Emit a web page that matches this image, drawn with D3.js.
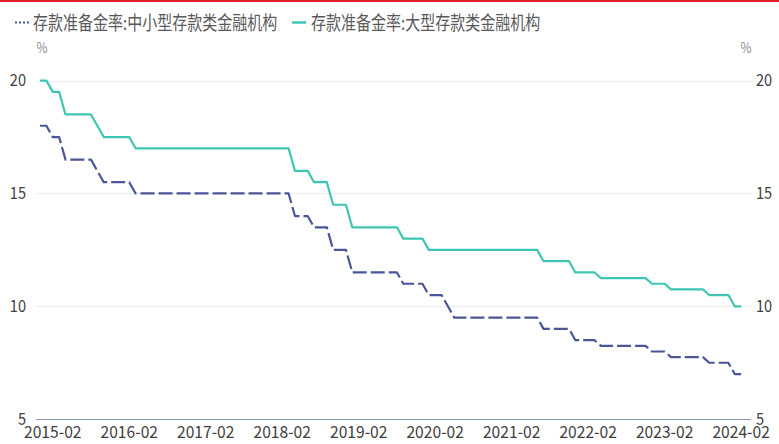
<!DOCTYPE html>
<html>
<head>
<meta charset="utf-8">
<script src="https://cdn.jsdelivr.net/npm/d3@7"></script>
<style>
  html, body { margin: 0; padding: 0; background: #fff; }
  svg text { font-family: "Noto Sans CJK SC", "Noto Sans", sans-serif; }
</style>
</head>
<body>
<div id="chart"></div>
<script>
// months 2014-12 .. 2024-02
var months = d3.timeMonth.range(new Date(2014, 11, 1), new Date(2024, 2, 2)).map(d3.timeFormat("%Y-%m"));

var tickLabels = ["2015-02", "2016-02", "2017-02", "2018-02", "2019-02",
                  "2020-02", "2021-02", "2022-02", "2023-02", "2024-02"];
var yTicks = [5, 10, 15, 20];

var seriesNames = ["存款准备金率:中小型存款类金融机构", "存款准备金率:大型存款类金融机构"];

// 中小型 (2014-12 first, then Jan..Dec per row)
var smallMedium = [18,
  18, 17.5, 17.5, 16.5, 16.5, 16.5, 16.5, 16.5, 16, 15.5, 15.5, 15.5,
  15.5, 15.5, 15, 15, 15, 15, 15, 15, 15, 15, 15, 15,
  15, 15, 15, 15, 15, 15, 15, 15, 15, 15, 15, 15,
  15, 15, 15, 14, 14, 14, 13.5, 13.5, 13.5, 12.5, 12.5, 12.5,
  11.5, 11.5, 11.5, 11.5, 11.5, 11.5, 11.5, 11.5, 11, 11, 11, 11,
  10.5, 10.5, 10.5, 10, 9.5, 9.5, 9.5, 9.5, 9.5, 9.5, 9.5, 9.5,
  9.5, 9.5, 9.5, 9.5, 9.5, 9.5, 9, 9, 9, 9, 9, 8.5,
  8.5, 8.5, 8.5, 8.25, 8.25, 8.25, 8.25, 8.25, 8.25, 8.25, 8.25, 8,
  8, 8, 7.75, 7.75, 7.75, 7.75, 7.75, 7.75, 7.5, 7.5, 7.5, 7.5,
  7, 7];

// 大型
var large = [20,
  20, 19.5, 19.5, 18.5, 18.5, 18.5, 18.5, 18.5, 18, 17.5, 17.5, 17.5,
  17.5, 17.5, 17, 17, 17, 17, 17, 17, 17, 17, 17, 17,
  17, 17, 17, 17, 17, 17, 17, 17, 17, 17, 17, 17,
  17, 17, 17, 16, 16, 16, 15.5, 15.5, 15.5, 14.5, 14.5, 14.5,
  13.5, 13.5, 13.5, 13.5, 13.5, 13.5, 13.5, 13.5, 13, 13, 13, 13,
  12.5, 12.5, 12.5, 12.5, 12.5, 12.5, 12.5, 12.5, 12.5, 12.5, 12.5, 12.5,
  12.5, 12.5, 12.5, 12.5, 12.5, 12.5, 12, 12, 12, 12, 12, 11.5,
  11.5, 11.5, 11.5, 11.25, 11.25, 11.25, 11.25, 11.25, 11.25, 11.25, 11.25, 11,
  11, 11, 10.75, 10.75, 10.75, 10.75, 10.75, 10.75, 10.5, 10.5, 10.5, 10.5,
  10, 10];

var width = 779, height = 444;

var svg = d3.select("#chart").append("svg")
    .attr("width", width)
    .attr("height", height);

var x = d3.scalePoint().domain(months).range([40, 747.5]);
var y = d3.scaleLinear().domain([5, 20]).range([419.2, 80.6]);

// condensed text, like the original picture
function label(g, px, py, str, anchor, size, color, sx) {
    return g.append("text")
        .attr("transform", "translate(" + px + "," + py + ") scale(" + sx + ",1)")
        .attr("text-anchor", anchor)
        .attr("font-size", size)
        .attr("fill", color)
        .text(str);
}

// red strip on top
svg.append("rect").attr("x", 0).attr("y", 0).attr("width", width).attr("height", 2).attr("fill", "#e0202a");

// grid
svg.selectAll("line.grid")
    .data(yTicks)
    .enter()
    .append("line")
    .attr("class", "grid")
    .attr("x1", 36).attr("x2", 751)
    .attr("y1", function(d){ return Math.round(y(d)) + 0.5; })
    .attr("y2", function(d){ return Math.round(y(d)) + 0.5; })
    .attr("stroke", function(d){ return d === 5 ? "#8c96b6" : "#eceef4"; })
    .attr("stroke-width", 1);

// y labels both sides
var axisG = svg.append("g");
yTicks.forEach(function(t){
    label(axisG, 26, y(t) + 5.5, t, "end", 17, "#404040", 0.86);
    label(axisG, 756, y(t) + 5.5, t, "start", 17, "#404040", 0.86);
});
label(axisG, 42, 53, "%", "middle", 15, "#8a8a8a", 0.8);
label(axisG, 746, 53, "%", "middle", 15, "#8a8a8a", 0.8);

// x labels
tickLabels.forEach(function(t){
    label(axisG, x(t), 437.5, t, "middle", 17, "#404040", 0.92);
});

// lines
var line = d3.line()
    .x(function(d, i){ return x(months[i]); })
    .y(function(d){ return y(d); });

svg.append("path")
    .datum(large)
    .attr("d", line)
    .attr("fill", "none")
    .attr("stroke", "#3fc6b2")
    .attr("stroke-width", 2.2)
    .attr("stroke-linejoin", "round");

svg.append("path")
    .datum(smallMedium)
    .attr("d", line)
    .attr("fill", "none")
    .attr("stroke", "#4a5699")
    .attr("stroke-width", 2.2)
    .attr("stroke-dasharray", "14,4")
    .attr("stroke-linejoin", "round");

// legend
var leg = svg.append("g");
leg.append("line")
    .attr("x1", 15).attr("x2", 31).attr("y1", 22.5).attr("y2", 22.5)
    .attr("stroke", "#4a5699").attr("stroke-width", 2)
    .attr("stroke-dasharray", "2,2");
label(leg, 33, 29.5, seriesNames[0], "start", 19, "#595959", 0.79);
leg.append("line")
    .attr("x1", 292).attr("x2", 306).attr("y1", 22.5).attr("y2", 22.5)
    .attr("stroke", "#3fc6b2").attr("stroke-width", 2.5);
label(leg, 311, 29.5, seriesNames[1], "start", 19, "#595959", 0.79);
</script>
</body>
</html>
